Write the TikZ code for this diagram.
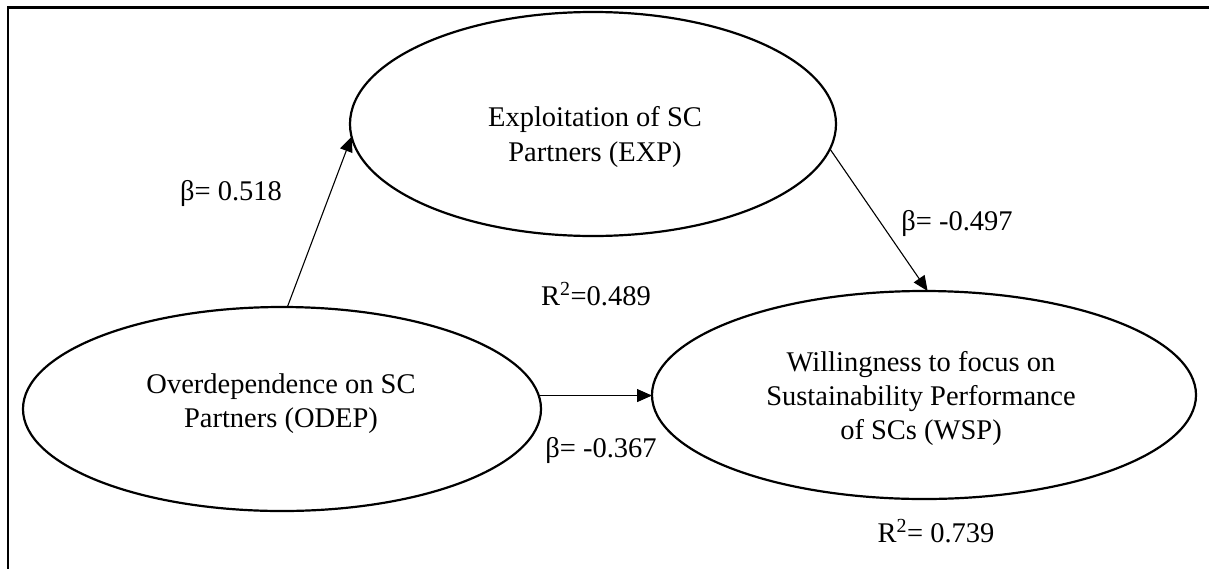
\documentclass[tikz,border=0pt]{standalone}
\usepackage{fontspec}
\setmainfont{Liberation Serif}
\usetikzlibrary{shapes.geometric,arrows.meta}
\tikzset{
  latent/.style={draw, ellipse, line width=2.2pt, inner sep=0pt, outer sep=0pt},
  txt/.style={anchor=base, inner sep=0pt, font=\fontsize{28.5}{34}\selectfont},
  arr/.style={line width=1.1pt, -{Triangle[length=15pt,width=13pt]}},
  frame/.style={line width=2.5pt}
}
\begin{document}
\begin{tikzpicture}[x=1pt,y=-1pt]
\useasboundingbox (0,0) rectangle (1209,568);
% frame
\coordinate (fbl) at (7.8,570);
\coordinate (ftl) at (7.8,7.3);
\coordinate (ftr) at (1211,7.3);
\draw[frame] (fbl) -- (ftl) -- (ftr);
% ellipses
\node[latent, minimum width=486pt, minimum height=224pt] (EXP) at (593,124) {};
\node[latent, minimum width=518pt, minimum height=204pt] (ODEP) at (282,409) {};
\node[latent, minimum width=544pt, minimum height=208pt] (WSP) at (924,395) {};
% texts
\node[txt] (exp1) at (595,126) {Exploitation of SC};
\node[txt] (exp2) at (595,161) {Partners (EXP)};
\node[txt] (odep1) at (281,393) {Overdependence on SC};
\node[txt] (odep2) at (281,427) {Partners (ODEP)};
\node[txt] (wsp1) at (921,371) {Willingness to focus on};
\node[txt] (wsp2) at (921,405) {Sustainability Performance};
\node[txt] (wsp3) at (921,439) {of SCs (WSP)};
% connectors
\draw[arr] (ODEP.87) -- (EXP.183);
\draw[arr] (ODEP.3) -- (ODEP.3 -| WSP.west);
\draw[arr] (EXP.-6) -- (WSP.88);
% labels
\node[txt] (b1) at (231,200) {β= 0.518};
\node[txt] (b2) at (957,230) {β= -0.497};
\node[txt] (r1) at (596,305) {R\textsuperscript{2}=0.489};
\node[txt] (b3) at (601,457) {β= -0.367};
\node[txt] (r2) at (936,542) {R\textsuperscript{2}= 0.739};
\end{tikzpicture}
\end{document}
